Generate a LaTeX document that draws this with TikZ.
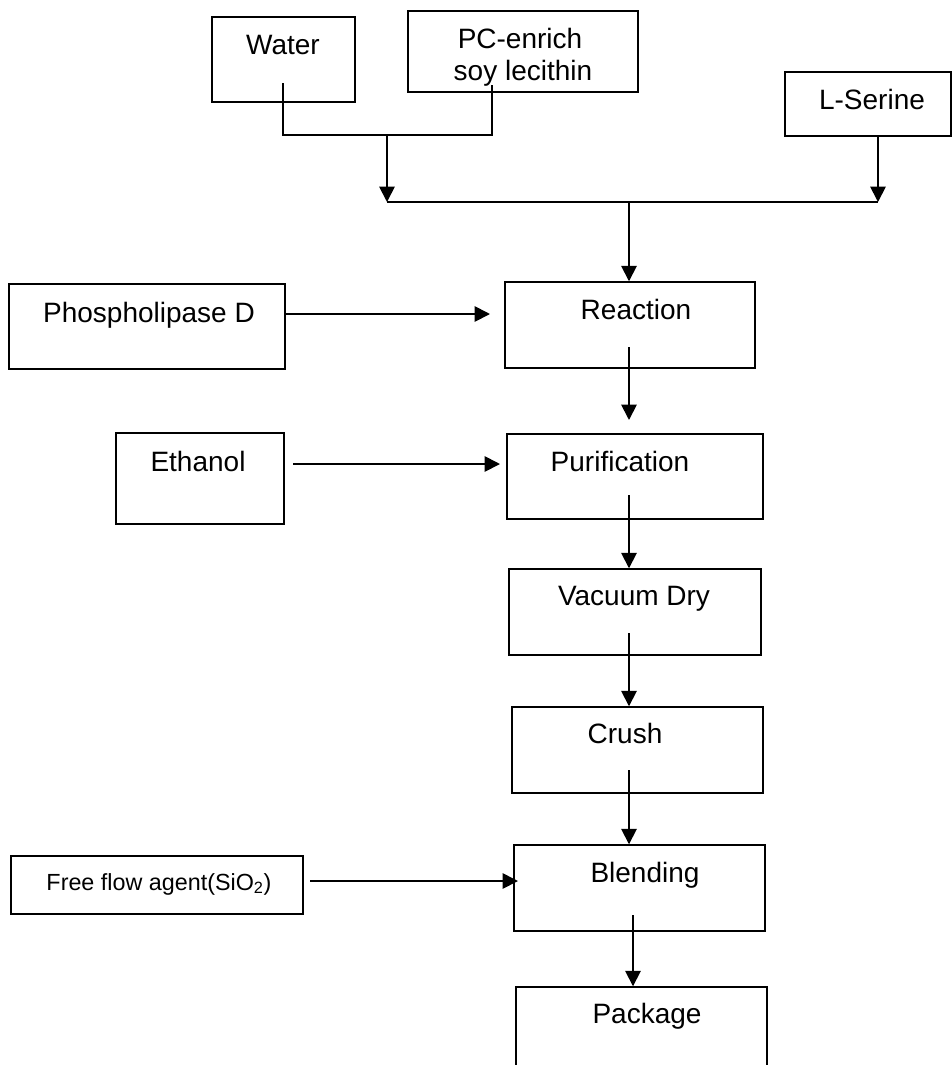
\documentclass[tikz,border=0pt]{standalone}
\usepackage{fontspec}
\setmainfont{Liberation Sans}
\usetikzlibrary{arrows.meta,fit}
\begin{document}
\begin{tikzpicture}[x=0.75pt,y=-0.75pt,
  box/.style={draw,line width=1.1pt,inner sep=0pt,rectangle},
  txt/.style={anchor=base,inner sep=0pt,font=\fontsize{21}{24}\selectfont},
  smalltxt/.style={anchor=base,inner sep=0pt,font=\fontsize{17.5}{21}\selectfont},
  conn/.style={line width=1.35pt},
  arr/.style={line width=1.35pt,-{Triangle[length=11.5pt,width=11.5pt]}}]
\clip (0,0) rectangle (952,1065);
\fill[white] (0,0) rectangle (952,1065);
% boxes
\node[box,fit={(212,17) (355,102)}] (water) {};
\node[box,fit={(408,11) (638,92)}] (pc) {};
\node[box,fit={(785,72) (951,136)}] (lser) {};
\node[box,fit={(9,284) (285,369)}] (phos) {};
\node[box,fit={(505,282) (755,368)}] (reac) {};
\node[box,fit={(116,433) (284,524)}] (eth) {};
\node[box,fit={(507,434) (763,519)}] (puri) {};
\node[box,fit={(509,569) (761,655)}] (vac) {};
\node[box,fit={(512,707) (763,793)}] (crush) {};
\node[box,fit={(11,856) (303,914)}] (ffa) {};
\node[box,fit={(514,845) (765,931)}] (blend) {};
\node[box,fit={(516,987) (767,1090)}] (pack) {};
% texts
\node[txt] (waterT) at (283,54) {Water};
\node[txt] (pcT1) at (520,48) {PC-enrich};
\node[txt] (pcT2) at (523,80) {soy lecithin};
\node[txt] (lserT) at (872,109) {L-Serine};
\node[txt] (phosT) at (149,322) {Phospholipase D};
\node[txt] (reacT) at (636,319) {Reaction};
\node[txt] (ethT) at (198,471) {Ethanol};
\node[txt] (puriT) at (620,471) {Purification};
\node[txt] (vacT) at (634,605) {Vacuum Dry};
\node[txt] (crushT) at (625,743) {Crush};
\node[smalltxt] (ffaT) at (159,890) {Free flow agent(SiO\textsubscript{2})};
\node[txt] (blendT) at (645,882) {Blending};
\node[txt] (packT) at (647,1023) {Package};
% coordinates
\coordinate (wIn) at (283,83);
\coordinate (pIn) at (492,85);
\coordinate (j1) at (387,135);
\coordinate (j2) at (387,202);
\coordinate (ls) at (878,202);
\coordinate (m1) at (629,202);
\coordinate (phosTip) at (490,314);
\coordinate (reacOut) at (629,347);
\coordinate (reacTip) at (629,420);
\coordinate (ethStart) at (293,464);
\coordinate (ethTip) at (500,464);
\coordinate (puriOut) at (629,495);
\coordinate (vacOut) at (629,633);
\coordinate (crushOut) at (629,770);
\coordinate (ffaStart) at (310,881);
\coordinate (ffaTip) at (518,881);
\coordinate (blendOut) at (633,915);
% connectors
\draw[conn] (wIn) -- (wIn |- j1) -- (pIn |- j1) -- (pIn);
\draw[arr] (j1) -- (j2);
\draw[arr] (ls |- lser.south) -- (ls);
\draw[conn] (j2) -- (ls);
\draw[arr] (m1) -- (m1 |- reac.north);
\draw[arr] (phos.east |- phosTip) -- (phosTip);
\draw[arr] (reacOut) -- (reacTip);
\draw[arr] (ethStart) -- (ethTip);
\draw[arr] (puriOut) -- (puriOut |- vac.north);
\draw[arr] (vacOut) -- (vacOut |- crush.north);
\draw[arr] (crushOut) -- (crushOut |- blend.north);
\draw[arr] (ffaStart) -- (ffaTip);
\draw[arr] (blendOut) -- (blendOut |- pack.north);
\end{tikzpicture}
\end{document}
